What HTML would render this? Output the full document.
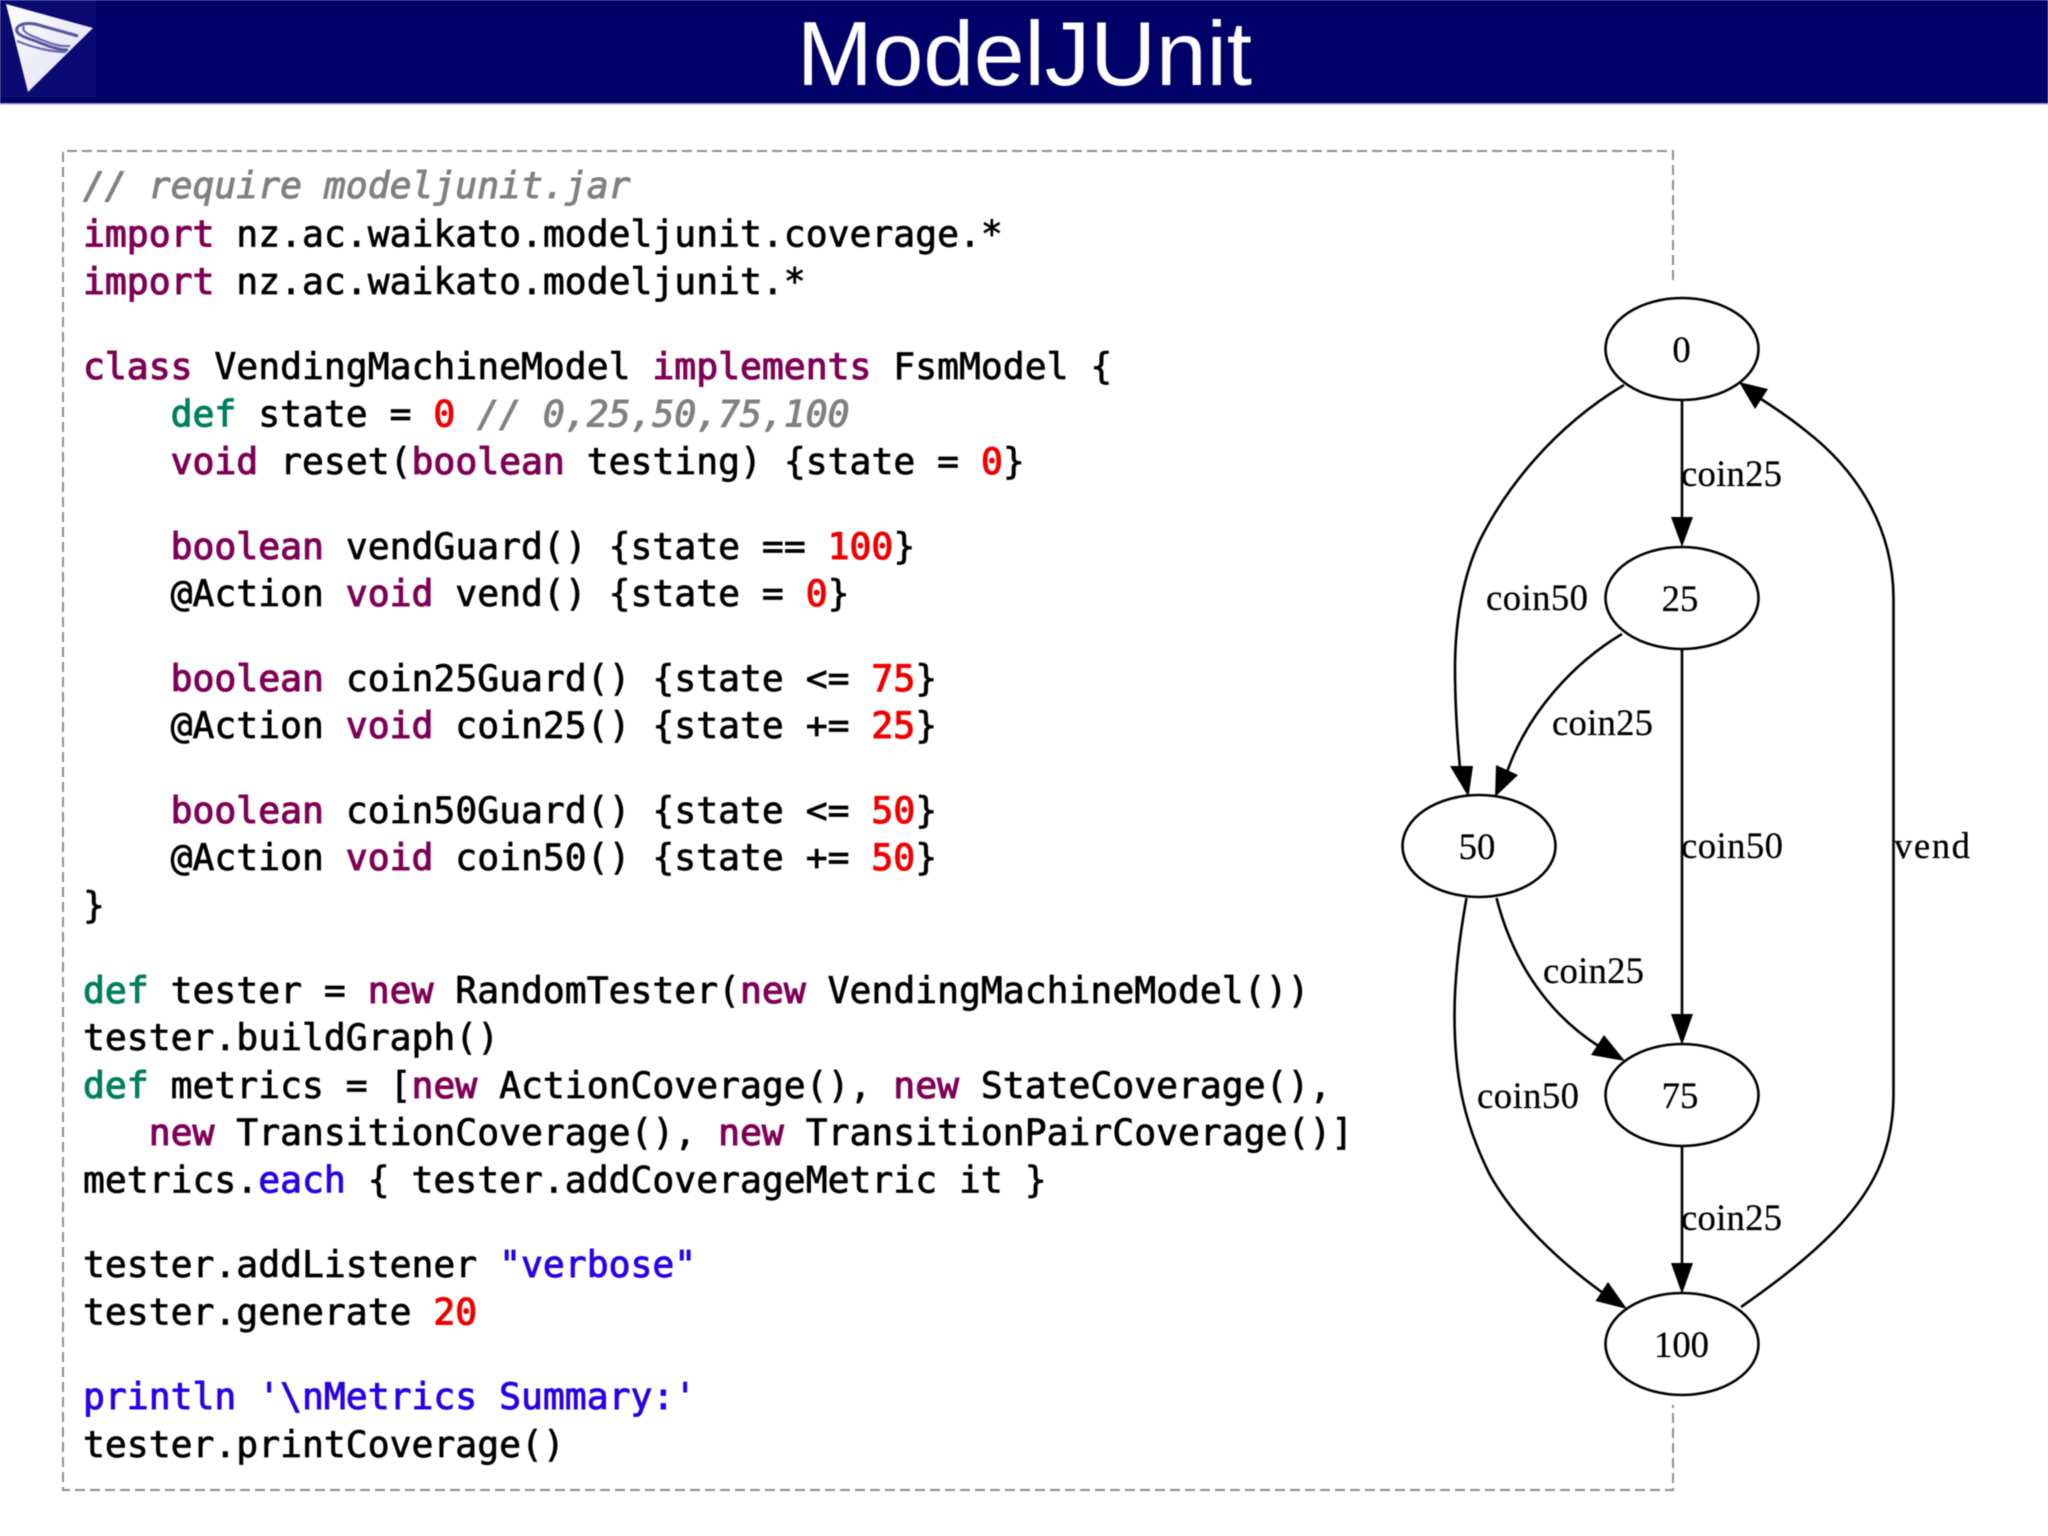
<!DOCTYPE html>
<html><head><meta charset="utf-8"><title>ModelJUnit</title>
<style>
html,body{margin:0;padding:0;background:#fff}
svg{display:block;filter:blur(.45px)}
.c{font-family:"DejaVu Sans Mono","Liberation Mono",monospace;font-size:36.38px;fill:#000;white-space:pre;stroke:#000;stroke-width:.7px}
.k{fill:#7f0055;stroke:#7f0055;stroke-width:1.1px}
.g{fill:#007f5f;stroke:#007f5f;stroke-width:1.1px}
.n{fill:#f00000;stroke:#f00000;stroke-width:1.1px}
.m{fill:#808080;stroke:#808080;font-style:italic;stroke-width:1px}
.b{fill:#2a00e8;stroke:#2a00e8;stroke-width:.9px}
.l{font-family:"Liberation Serif",serif;font-size:36.7px;fill:#000;stroke:#000;stroke-width:.25px}
.e{fill:none;stroke:#000;stroke-width:2.6}
.a{fill:#000}
.o{fill:#fff;stroke:#000;stroke-width:2.6}
</style></head>
<body>
<svg width="2048" height="1536" viewBox="0 0 2048 1536" xmlns="http://www.w3.org/2000/svg">
<defs><linearGradient id="t" x1="0" y1="0" x2="1" y2="1"><stop offset="0" stop-color="#fff"/><stop offset=".75" stop-color="#e4e4f6"/><stop offset="1" stop-color="#a8a8dc"/></linearGradient></defs>
<rect x="0" y="0" width="2048" height="103" fill="#000068"/>
<rect x="0" y="103" width="2048" height="1.5" fill="#9a9ad0"/>
<rect x="0" y="0" width="96" height="97" fill="#0a0a72"/>
<polygon points="6,4 93,28 28,92" fill="url(#t)"/>
<path d="M78,36 L42,26 C30,22 20,23 17,28 C14,35 28,38 38,42 C48,46 58,50 68,50" fill="none" stroke="#55559f" stroke-width="3"/>
<path d="M66,52 C52,52 34,48 17,41 M24,26 C20,32 32,36 42,40 C52,44 60,47 70,46" fill="none" stroke="#6a6ab0" stroke-width="2.2"/>
<text x="1024.5" y="85" text-anchor="middle" font-family="'Liberation Sans',sans-serif" font-size="91" fill="#fff">ModelJUnit</text>

<path d="M1673,280 V151 H63 V1490 H1673 V1405" fill="none" stroke="#8c8c8c" stroke-width="2" stroke-dasharray="10 5"/>

<text class="c" x="83" y="198" xml:space="preserve"><tspan class="m">// require modeljunit.jar</tspan></text>
<text class="c" x="83" y="246.5" xml:space="preserve"><tspan class="k">import</tspan> nz.ac.waikato.modeljunit.coverage.*</text>
<text class="c" x="83" y="294" xml:space="preserve"><tspan class="k">import</tspan> nz.ac.waikato.modeljunit.*</text>
<text class="c" x="83" y="379" xml:space="preserve"><tspan class="k">class</tspan> VendingMachineModel <tspan class="k">implements</tspan> FsmModel {</text>
<text class="c" x="83" y="426.5" xml:space="preserve">    <tspan class="g">def</tspan> state = <tspan class="n">0</tspan> <tspan class="m">// 0,25,50,75,100</tspan></text>
<text class="c" x="83" y="474" xml:space="preserve">    <tspan class="k">void</tspan> reset(<tspan class="k">boolean</tspan> testing) {state = <tspan class="n">0</tspan>}</text>
<text class="c" x="83" y="559" xml:space="preserve">    <tspan class="k">boolean</tspan> vendGuard() {state == <tspan class="n">100</tspan>}</text>
<text class="c" x="83" y="606" xml:space="preserve">    @Action <tspan class="k">void</tspan> vend() {state = <tspan class="n">0</tspan>}</text>
<text class="c" x="83" y="691" xml:space="preserve">    <tspan class="k">boolean</tspan> coin25Guard() {state &lt;= <tspan class="n">75</tspan>}</text>
<text class="c" x="83" y="738" xml:space="preserve">    @Action <tspan class="k">void</tspan> coin25() {state += <tspan class="n">25</tspan>}</text>
<text class="c" x="83" y="823" xml:space="preserve">    <tspan class="k">boolean</tspan> coin50Guard() {state &lt;= <tspan class="n">50</tspan>}</text>
<text class="c" x="83" y="870" xml:space="preserve">    @Action <tspan class="k">void</tspan> coin50() {state += <tspan class="n">50</tspan>}</text>
<text class="c" x="83" y="918" xml:space="preserve">}</text>
<text class="c" x="83" y="1003" xml:space="preserve"><tspan class="g">def</tspan> tester = <tspan class="k">new</tspan> RandomTester(<tspan class="k">new</tspan> VendingMachineModel())</text>
<text class="c" x="83" y="1050" xml:space="preserve">tester.buildGraph()</text>
<text class="c" x="83" y="1098" xml:space="preserve"><tspan class="g">def</tspan> metrics = [<tspan class="k">new</tspan> ActionCoverage(), <tspan class="k">new</tspan> StateCoverage(),</text>
<text class="c" x="83" y="1145" xml:space="preserve">   <tspan class="k">new</tspan> TransitionCoverage(), <tspan class="k">new</tspan> TransitionPairCoverage()]</text>
<text class="c" x="83" y="1192.5" xml:space="preserve">metrics.<tspan class="b">each</tspan> { tester.addCoverageMetric it }</text>
<text class="c" x="83" y="1277" xml:space="preserve">tester.addListener <tspan class="b">"verbose"</tspan></text>
<text class="c" x="83" y="1324.5" xml:space="preserve">tester.generate <tspan class="n">20</tspan></text>
<text class="c" x="83" y="1409" xml:space="preserve"><tspan class="b">println '\nMetrics Summary:'</tspan></text>
<text class="c" x="83" y="1457" xml:space="preserve">tester.printCoverage()</text>

<path class="e" d="M1624,385 C1552,428 1505,490 1480,540 C1462,578 1455,625 1455,668 C1455,700 1457,735 1460,768"/>
<polygon class="a" points="1450,766 1473,766 1468.5,797"/>
<path class="e" d="M1682,401 V518"/>
<polygon class="a" points="1671,517 1693,517 1682,547"/>
<path class="e" d="M1622,634 C1575,662 1527,712 1506,775"/>
<polygon class="a" points="1496,765 1518,775 1495,797"/>
<path class="e" d="M1682,649 V1016"/>
<polygon class="a" points="1671,1014 1693,1014 1682,1045"/>
<path class="e" d="M1496.5,898 C1506,935 1522,968 1542,994 C1558,1015 1578,1033 1600,1047"/>
<polygon class="a" points="1604,1035 1591,1055 1625,1061"/>
<path class="e" d="M1466.5,898 C1458,945 1454.5,985 1454.5,1015 C1454.5,1080 1465,1125 1490,1175 C1515,1220 1560,1262 1603,1293"/>
<polygon class="a" points="1608,1282 1595.5,1301 1627,1309"/>
<path class="e" d="M1682,1146 V1265"/>
<polygon class="a" points="1671,1263 1693,1263 1682,1294"/>
<path class="e" d="M1741,1307 C1780,1280 1815,1252 1840,1225 C1870,1192 1893,1155 1893.5,1095 V598 C1893,520 1850,465 1806,431 C1790,418 1775,408 1761,399"/>
<polygon class="a" points="1768,389 1755,409 1739,382"/>

<ellipse class="o" cx="1682" cy="349" rx="76.5" ry="51"/>
<ellipse class="o" cx="1682" cy="598" rx="76.5" ry="51"/>
<ellipse class="o" cx="1479" cy="846" rx="76.5" ry="51"/>
<ellipse class="o" cx="1682" cy="1095" rx="76.5" ry="51"/>
<ellipse class="o" cx="1682" cy="1344" rx="76.5" ry="51"/>
<text class="l" x="1681.5" y="362" text-anchor="middle">0</text>
<text class="l" x="1680" y="611" text-anchor="middle">25</text>
<text class="l" x="1477" y="859" text-anchor="middle">50</text>
<text class="l" x="1680" y="1108" text-anchor="middle">75</text>
<text class="l" x="1681.5" y="1357" text-anchor="middle">100</text>
<text class="l" x="1681" y="486" textLength="101">coin25</text>
<text class="l" x="1486" y="610" textLength="102">coin50</text>
<text class="l" x="1552" y="735" textLength="101">coin25</text>
<text class="l" x="1681" y="858" textLength="102">coin50</text>
<text class="l" x="1894" y="858" textLength="76">vend</text>
<text class="l" x="1543" y="983" textLength="101">coin25</text>
<text class="l" x="1477" y="1108" textLength="102">coin50</text>
<text class="l" x="1681" y="1230" textLength="101">coin25</text>
</svg>
</body></html>
